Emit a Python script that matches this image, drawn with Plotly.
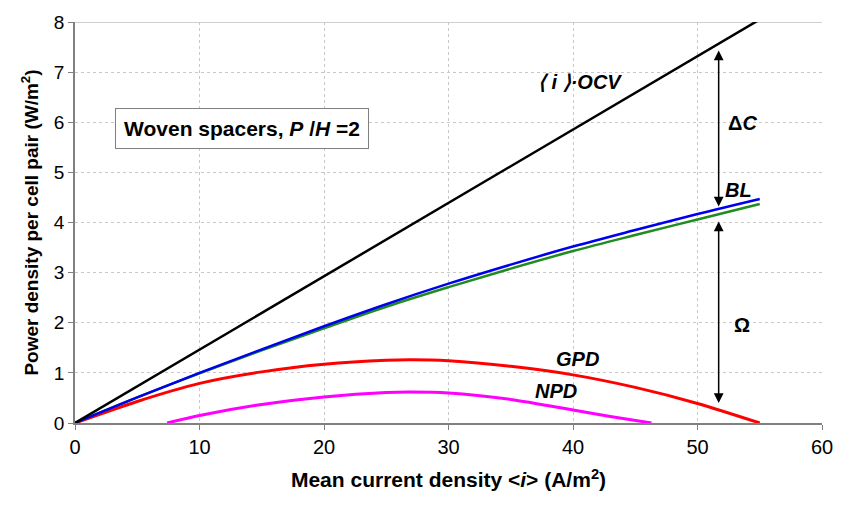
import plotly.graph_objects as go

# Data
ocv_x = [0, 55]
ocv_y = [0, 8.05]

bl_x = [0, 5, 10, 15, 20, 25, 30, 35, 40, 45, 50, 55]
bl_y = [0, 0.51, 1.0, 1.47, 1.93, 2.37, 2.78, 3.16, 3.52, 3.85, 4.17, 4.47]

green_x = [0, 5, 10, 15, 20, 25, 30, 35, 40, 45, 50, 55]
green_y = [0, 0.51, 0.99, 1.45, 1.89, 2.32, 2.71, 3.08, 3.43, 3.75, 4.06, 4.37]

gpd_x = [0, 5, 10, 15, 20, 25, 27, 30, 35, 40, 45, 50, 55]
gpd_y = [0, 0.43, 0.79, 1.02, 1.17, 1.25, 1.26, 1.24, 1.13, 0.96, 0.71, 0.39, 0.0]

npd_x = [7.4, 10, 15, 20, 25, 27, 30, 35, 40, 43, 46.3]
npd_y = [0, 0.15, 0.37, 0.52, 0.61, 0.62, 0.6, 0.47, 0.26, 0.13, 0]

x_ticks = [0, 10, 20, 30, 40, 50, 60]
y_ticks = [0, 1, 2, 3, 4, 5, 6, 7, 8]

FONT = "Liberation Sans, Arial, sans-serif"

fig = go.Figure()
fig.add_trace(go.Scatter(x=npd_x, y=npd_y, mode="lines", line=dict(color="#FF00FF", width=3, shape="spline", smoothing=0.8), showlegend=False))
fig.add_trace(go.Scatter(x=gpd_x, y=gpd_y, mode="lines", line=dict(color="#FF0000", width=3, shape="spline", smoothing=0.8), showlegend=False))
fig.add_trace(go.Scatter(x=green_x, y=green_y, mode="lines", line=dict(color="#1E8C1E", width=2.5, shape="spline"), showlegend=False))
fig.add_trace(go.Scatter(x=bl_x, y=bl_y, mode="lines", line=dict(color="#0000EE", width=2.5, shape="spline"), showlegend=False))
fig.add_trace(go.Scatter(x=ocv_x, y=ocv_y, mode="lines", line=dict(color="#000000", width=2.5), showlegend=False))

# y=8 top line
fig.add_shape(type="line", x0=0, x1=60, y0=8, y1=8, xref="x", yref="y",
              line=dict(color="#A0A0A0", width=1), layer="below")

# double arrows
arrow_x = 51.7
for y0, y1 in [(7.46, 4.32), (4.05, 0.40)]:
    fig.add_annotation(x=arrow_x, y=y1, ax=arrow_x, ay=y0, xref="x", yref="y",
                       axref="x", ayref="y", text="", showarrow=True,
                       arrowhead=2, startarrowhead=2, arrowside="end+start",
                       arrowsize=1.3, startarrowsize=1.3, arrowwidth=1.5, arrowcolor="black")

labels = [
    (40.6, 6.8, "<b><i>\u27e8 i \u27e9\u00b7OCV</i></b>"),
    (53.6, 5.98, "<b>\u0394<i>C</i></b>"),
    (53.3, 4.65, "<b><i>BL</i></b>"),
    (53.6, 1.96, "<b>\u03a9</b>"),
    (40.4, 1.28, "<b><i>GPD</i></b>"),
    (38.6, 0.64, "<b><i>NPD</i></b>"),
]
for x, y, t in labels:
    fig.add_annotation(x=x, y=y, text=t, showarrow=False, xref="x", yref="y",
                       font=dict(family=FONT, size=20, color="black"))

fig.add_annotation(x=13.4, y=5.87, xref="x", yref="y", showarrow=False,
                   text="<b>Woven spacers, <i>P</i> /<i>H</i> =2</b>",
                   font=dict(family=FONT, size=21, color="black"),
                   bgcolor="white", bordercolor="#808080", borderwidth=1, borderpad=8)

fig.update_layout(
    width=845, height=513,
    margin=dict(l=75, r=15, t=14, b=90),
    plot_bgcolor="white", paper_bgcolor="white",
    font=dict(family=FONT, size=19, color="black"),
)
fig.update_xaxes(range=[0, 60], tickvals=x_ticks, showgrid=True, gridcolor="#C8C8C8",
                 griddash="dot", gridwidth=1, showline=True, linecolor="#808080", linewidth=1.5,
                 ticks="outside", ticklen=5, tickcolor="#808080", zeroline=False,
                 tickfont=dict(size=20),
                 title=dict(text="<b>Mean current density &lt;<i>i</i>&gt; (A/m<sup>2</sup>)</b>",
                            font=dict(size=21), standoff=16))
fig.update_yaxes(range=[0, 8], tickvals=y_ticks, showgrid=True, gridcolor="#C8C8C8",
                 griddash="dot", gridwidth=1, showline=True, linecolor="#808080", linewidth=1.5,
                 ticks="outside", ticklen=5, tickcolor="#808080", zeroline=False,
                 tickfont=dict(size=19),
                 title=dict(text="<b>Power density per cell pair (W/m<sup>2</sup>)</b>",
                            font=dict(size=19), standoff=10))

fig.write_html("out.html")
